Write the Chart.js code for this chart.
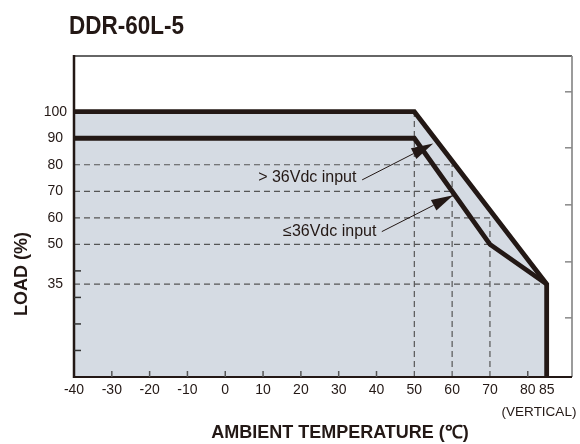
<!DOCTYPE html>
<html><head><meta charset="utf-8">
<script src="https://cdn.jsdelivr.net/npm/chart.js@4"></script>
<style>html,body{margin:0;padding:0;background:#fff;overflow:hidden}canvas{display:block}</style>
</head><body>
<canvas id="c" width="580" height="444"></canvas>
<script>
const chartTitle = 'DDR-60L-5';
const xTitle = 'AMBIENT TEMPERATURE (\u2103)';
const yTitle = 'LOAD (%)';
const xNote = '(VERTICAL)';
const xTicks = [-40,-30,-20,-10,0,10,20,30,40,50,60,70,80,85];
const yTicks = [35,50,60,70,80,90,100];
const xMinorTicks = [-30,-20,-10,0,10,20,30,40,80];
const yMinorTicks = [10,20,30,40];
const rightTicks = [22.3,43.4,64.9,86.4,107.5];
const upperTemp = [-40,50,85,85];
const upperLoad = [100,100,35,0];
const lowerTemp = [-40,50,70,85];
const lowerLoad = [90,90,50,35];
const guideLoads = [80,70,60,50,35];
const guideLoadEnds = [60,60,70,70,85];
const guideTemps = [50,60,70];
const guideTempTops = [100,80,60];
const labelTexts = ['> 36Vdc input','\u226436Vdc input'];
const labelAt = [[8.7,73.6],[15.3,53.2]];
const arrowFrom = [[36.2,74.3],[41.4,54.8]];
const arrowTo = [[55,88],[60.3,68.5]];

const INK = '#231815';
const FONT = "'Liberation Sans', Arial, sans-serif";

const pts = (xs, ys) => xs.map((x, i) => ({x, y: ys[i]}));
const datasets = [];
datasets.push({data: pts(upperTemp, upperLoad), borderColor: INK, borderWidth: 4.8, fill: 'origin',
  backgroundColor: '#d5dbe3', pointRadius: 0, borderJoinStyle: 'miter', borderCapStyle: 'butt', order: 0});
datasets.push({data: pts(lowerTemp, lowerLoad), borderColor: INK, borderWidth: 4.8, fill: false,
  pointRadius: 0, borderJoinStyle: 'miter', borderCapStyle: 'butt', order: 0});
guideLoads.forEach((v, i) => datasets.push({data: [{x: -40, y: v}, {x: guideLoadEnds[i], y: v}],
  borderColor: '#555', borderWidth: 1.2, borderDash: [6, 4], pointRadius: 0, fill: false, order: 1}));
guideTemps.forEach((t, i) => datasets.push({data: [{x: t, y: 0}, {x: t, y: guideTempTops[i]}],
  borderColor: '#555', borderWidth: 1.2, borderDash: [6, 4], pointRadius: 0, fill: false, order: 1}));

const decor = {
  id: 'decor',
  afterDatasetsDraw(chart) {
    const {ctx, chartArea: a, scales: {x, y}} = chart;
    ctx.save();
    const line = (x1, y1, x2, y2, w, c) => { ctx.beginPath(); ctx.moveTo(x1, y1); ctx.lineTo(x2, y2); ctx.lineWidth = w; ctx.strokeStyle = c; ctx.stroke(); };
    line(a.left, a.top, a.right, a.top, 1.7, '#333');
    line(a.right, a.top, a.right, a.bottom, 1.7, '#8a8a8a');
    line(a.left, a.top - 1, a.left, a.bottom + 1, 2.5, INK);
    line(a.left, a.bottom, a.right, a.bottom, 2, INK);
    yMinorTicks.forEach(v => { const p = y.getPixelForValue(v); line(a.left, p, a.left + 7, p, 1.5, '#333'); });
    xMinorTicks.forEach(v => { const p = x.getPixelForValue(v); line(p, a.bottom, p, a.bottom - 6, 1.5, '#555'); });
    rightTicks.forEach(v => { const p = y.getPixelForValue(v); line(a.right, p, a.right - 7, p, 1.5, '#888'); });
    arrowFrom.forEach((f, i) => {
      const x0 = x.getPixelForValue(f[0]), y0 = y.getPixelForValue(f[1]);
      const x1 = x.getPixelForValue(arrowTo[i][0]), y1 = y.getPixelForValue(arrowTo[i][1]);
      const ang = Math.atan2(y1 - y0, x1 - x0), L = 22, W = 6;
      const bx = x1 - L * Math.cos(ang), by = y1 - L * Math.sin(ang);
      line(x0, y0, bx, by, 1, INK);
      ctx.beginPath(); ctx.moveTo(x1, y1);
      ctx.lineTo(bx + W * Math.sin(ang), by - W * Math.cos(ang));
      ctx.lineTo(bx - W * Math.sin(ang), by + W * Math.cos(ang));
      ctx.closePath(); ctx.fillStyle = INK; ctx.fill();
    });
    ctx.fillStyle = INK; ctx.textBaseline = 'alphabetic'; ctx.textAlign = 'left';
    ctx.font = '16px ' + FONT;
    labelTexts.forEach((t, i) => ctx.fillText(t, x.getPixelForValue(labelAt[i][0]), y.getPixelForValue(labelAt[i][1])));
    ctx.font = 'bold 26px ' + FONT;
    const w = ctx.measureText(chartTitle).width;
    ctx.save(); ctx.translate(69, 34); ctx.scale(115 / w, 1); ctx.fillText(chartTitle, 0, 0); ctx.restore();
    ctx.font = 'bold 18px ' + FONT; ctx.textAlign = 'center';
    ctx.fillText(xTitle, 340, 438);
    ctx.font = '13.5px ' + FONT;
    ctx.fillText(xNote, 539, 416);
    ctx.save(); ctx.translate(27, 274); ctx.rotate(-Math.PI / 2);
    ctx.font = 'bold 18px ' + FONT; ctx.fillText(yTitle, 0, 0); ctx.restore();
    ctx.restore();
  }
};

new Chart(document.getElementById('c'), {
  type: 'line',
  data: {datasets},
  options: {
    responsive: false, animation: false, events: [],
    layout: {padding: {top: 56, right: 8, left: 0, bottom: 0}},
    plugins: {legend: {display: false}, tooltip: {enabled: false}, filler: {drawTime: 'beforeDatasetsDraw'}},
    scales: {
      x: {type: 'linear', min: -40, max: 91.7,
        afterBuildTicks: s => { s.ticks = xTicks.map(v => ({value: v})); },
        afterFit: s => { s.height = 67; },
        grid: {drawOnChartArea: false, drawTicks: false}, border: {display: false},
        ticks: {autoSkip: false, maxRotation: 0, padding: 5, color: INK, font: {family: FONT, size: 14}}},
      y: {type: 'linear', min: 0, max: 121,
        afterBuildTicks: s => { s.ticks = yTicks.map(v => ({value: v})); },
        afterFit: s => { s.width = 74; },
        grid: {drawOnChartArea: false, drawTicks: false}, border: {display: false},
        ticks: {autoSkip: false, padding: 7, crossAlign: 'center', color: INK, font: {family: FONT, size: 14}}}
    }
  },
  plugins: [decor]
});
</script>
</body></html>
